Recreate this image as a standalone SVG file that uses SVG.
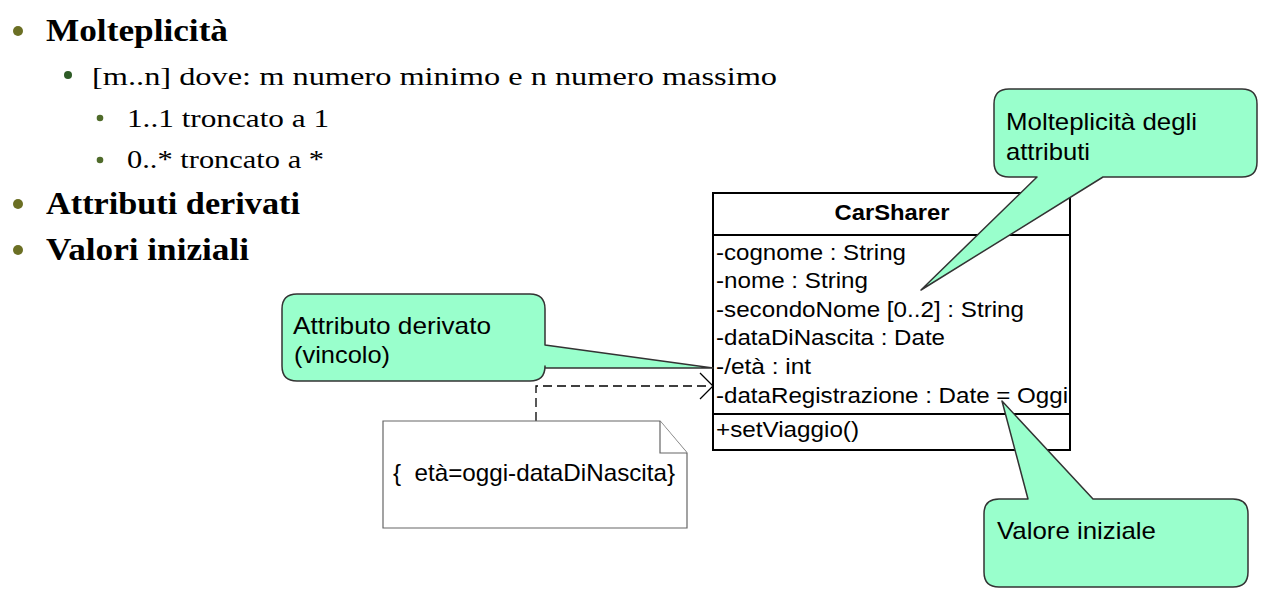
<svg xmlns="http://www.w3.org/2000/svg" width="1273" height="597" viewBox="0 0 1273 597">
<style>
.b1{font-family:"Liberation Serif","DejaVu Serif",serif;font-weight:bold;font-size:31px;fill:#000}
.b2{font-family:"Liberation Serif","DejaVu Serif",serif;font-size:26px;fill:#000}
.cls{font-family:"Liberation Sans",Arial,sans-serif;font-size:22px;fill:#000}
.clsb{font-family:"Liberation Sans",Arial,sans-serif;font-size:22px;font-weight:bold;fill:#000}
.co{font-family:"Liberation Sans",Arial,sans-serif;font-size:24px;fill:#000}
.callout{fill:#99ffcc;stroke:#333;stroke-width:1.5;stroke-linejoin:round}
.box{fill:#fff;stroke:#000;stroke-width:2}
.note{fill:#fff;stroke:#666;stroke-width:1.2}
.dash{fill:none;stroke:#000;stroke-width:1.3;stroke-dasharray:9,5}
</style>
<rect width="1273" height="597" fill="#fff"/>
<g id="bullets">
  <circle cx="18" cy="31" r="5" fill="#6b6f24"/>
  <text class="b1" x="46" y="41" textLength="182" lengthAdjust="spacingAndGlyphs">Molteplicità</text>
  <circle cx="68" cy="75" r="4" fill="#2e5b26"/>
  <text class="b2" x="92" y="85" textLength="685" lengthAdjust="spacingAndGlyphs">[m..n] dove: m numero minimo e n numero massimo</text>
  <circle cx="100" cy="118" r="3.3" fill="#4f6b2a"/>
  <text class="b2" x="127" y="127" textLength="202" lengthAdjust="spacingAndGlyphs">1..1 troncato a 1</text>
  <circle cx="100" cy="160" r="3.3" fill="#4f6b2a"/>
  <text class="b2" x="127" y="168" textLength="197" lengthAdjust="spacingAndGlyphs">0..* troncato a *</text>
  <circle cx="18" cy="204" r="5" fill="#6b6f24"/>
  <text class="b1" x="46" y="214" textLength="254" lengthAdjust="spacingAndGlyphs">Attributi derivati</text>
  <circle cx="18" cy="250" r="5" fill="#6b6f24"/>
  <text class="b1" x="46" y="260" textLength="203" lengthAdjust="spacingAndGlyphs">Valori iniziali</text>
</g>
<g id="connectors">
  <path class="dash" d="M536,421 V386 H711"/>
  <path d="M700,373 L713,386 L700,399" fill="none" stroke="#000" stroke-width="1.3"/>
</g>
<g id="CarSharer">
  <rect class="box" x="713" y="193" width="357" height="257"/>
  <line x1="713" y1="235" x2="1070" y2="235" stroke="#000" stroke-width="2"/>
  <line x1="713" y1="414" x2="1070" y2="414" stroke="#000" stroke-width="2"/>
  <text class="clsb" x="892" y="220" text-anchor="middle" textLength="115" lengthAdjust="spacingAndGlyphs">CarSharer</text>
  <text class="cls" x="716" y="260" textLength="190" lengthAdjust="spacingAndGlyphs">-cognome : String</text>
  <text class="cls" x="716" y="288" textLength="152" lengthAdjust="spacingAndGlyphs">-nome : String</text>
  <text class="cls" x="716" y="317" textLength="308" lengthAdjust="spacingAndGlyphs">-secondoNome [0..2] : String</text>
  <text class="cls" x="716" y="345" textLength="229" lengthAdjust="spacingAndGlyphs">-dataDiNascita : Date</text>
  <text class="cls" x="716" y="374" textLength="95" lengthAdjust="spacingAndGlyphs">-/età : int</text>
  <text class="cls" x="716" y="403" textLength="352" lengthAdjust="spacingAndGlyphs">-dataRegistrazione : Date = Oggi</text>
  <text class="cls" x="716" y="437" textLength="143" lengthAdjust="spacingAndGlyphs">+setViaggio()</text>
</g>
<g id="note">
  <path class="note" d="M383,421 H660 L687,453 V528 H383 Z"/>
  <path class="note" d="M660,421 V453 H687" fill="none"/>
  <text class="co" x="393" y="481" font-size="22" textLength="282" lengthAdjust="spacingAndGlyphs" xml:space="preserve">{  età=oggi-dataDiNascita}</text>
</g>
<g id="callout-derivato">
  <path class="callout" d="M297,294 H530 Q545,294 545,309 V345 L713,368 H545 V366 Q545,381 530,381 H297 Q282,381 282,366 V309 Q282,294 297,294 Z"/>
  <text class="co" x="293" y="334" textLength="198" lengthAdjust="spacingAndGlyphs">Attributo derivato</text>
  <text class="co" x="294" y="363" textLength="96" lengthAdjust="spacingAndGlyphs">(vincolo)</text>
</g>
<g id="callout-molteplicita">
  <path class="callout" d="M1009,89 H1242 Q1257,89 1257,104 V162 Q1257,177 1242,177 H1103 L921,290 L1037,177 H1009 Q994,177 994,162 V104 Q994,89 1009,89 Z"/>
  <text class="co" x="1006" y="130" textLength="191" lengthAdjust="spacingAndGlyphs">Molteplicità degli</text>
  <text class="co" x="1006" y="160" textLength="84" lengthAdjust="spacingAndGlyphs">attributi</text>
</g>
<g id="callout-valore">
  <path class="callout" d="M999,499 H1028 L1002,401 L1093,499 H1233 Q1248,499 1248,514 V572 Q1248,587 1233,587 H999 Q984,587 984,572 V514 Q984,499 999,499 Z"/>
  <text class="co" x="997" y="539" textLength="159" lengthAdjust="spacingAndGlyphs">Valore iniziale</text>
</g>
</svg>
